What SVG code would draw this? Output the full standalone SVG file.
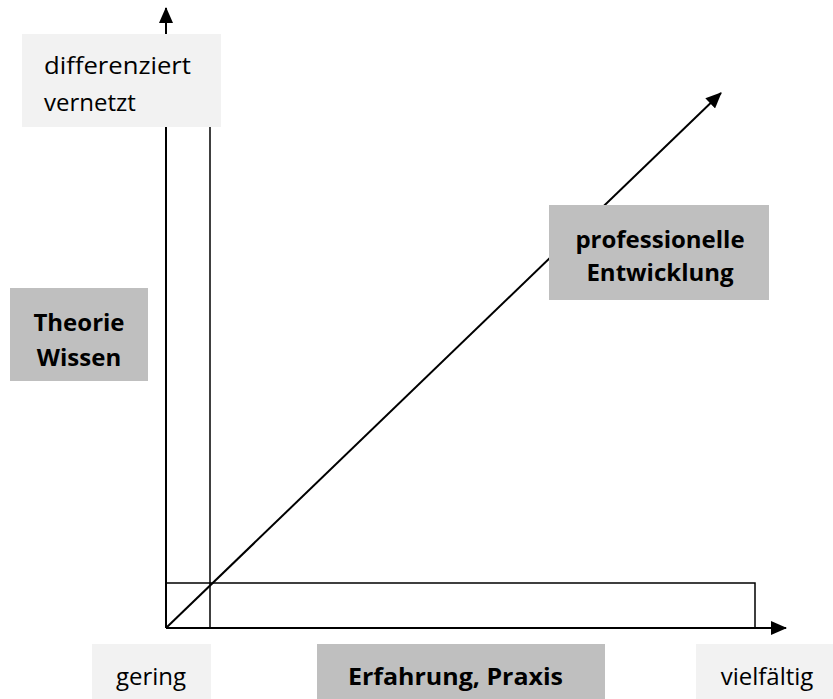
<svg xmlns="http://www.w3.org/2000/svg" width="833" height="699" viewBox="0 0 833 699">
<defs>
<style>
.ax{stroke:#000;stroke-width:2;fill:none}
.ln{stroke:#000;stroke-width:1.5;fill:none}
.light{fill:#f2f2f2}
.dark{fill:#bfbfbf}
.t{font-family:"Open Sans","Liberation Sans",sans-serif;font-size:24px;fill:#000}
.b{font-weight:bold}
</style>
<marker id="ah2" markerWidth="16" markerHeight="14" refX="15" refY="7" orient="auto" markerUnits="userSpaceOnUse" viewBox="0 0 16 14">
<path d="M0,0 L16,7 L0,14 Z" fill="#000"/>
</marker>
</defs>
<g id="connectors">
<line class="ax" x1="166" y1="628" x2="166" y2="8" marker-end="url(#ah2)"/>
<line class="ax" x1="166" y1="628" x2="786" y2="628" marker-end="url(#ah2)"/>
<line class="ax" x1="166" y1="628" x2="721" y2="93" marker-end="url(#ah2)"/>
<line class="ln" x1="210" y1="127" x2="210" y2="628"/>
<polyline class="ln" points="166,583 755,583 755,628"/>
</g>
<g id="differenziert">
<rect class="light" x="22" y="34" width="199" height="93"/>
<text class="t" x="44" y="74" textLength="147" lengthAdjust="spacingAndGlyphs">differenziert</text>
<text class="t" x="44" y="111">vernetzt</text>
</g>
<g id="theorie">
<rect class="dark" x="10" y="288" width="138" height="93"/>
<text class="t b" x="79" y="331" text-anchor="middle">Theorie</text>
<text class="t b" x="79" y="366" text-anchor="middle">Wissen</text>
</g>
<g id="professionelle">
<rect class="dark" x="549" y="205" width="220" height="95"/>
<text class="t b" x="660" y="248" text-anchor="middle">professionelle</text>
<text class="t b" x="660" y="281" text-anchor="middle">Entwicklung</text>
</g>
<g id="gering">
<rect class="light" x="92" y="644" width="119" height="55"/>
<text class="t" x="151" y="685" text-anchor="middle">gering</text>
</g>
<g id="erfahrung">
<rect class="dark" x="317" y="644" width="288" height="55"/>
<text class="t b" x="348" y="685" textLength="215" lengthAdjust="spacingAndGlyphs">Erfahrung, Praxis</text>
</g>
<g id="vielfaeltig">
<rect class="light" x="696" y="644" width="137" height="55"/>
<text class="t" x="767" y="685" text-anchor="middle">vielfältig</text>
</g>
</svg>
